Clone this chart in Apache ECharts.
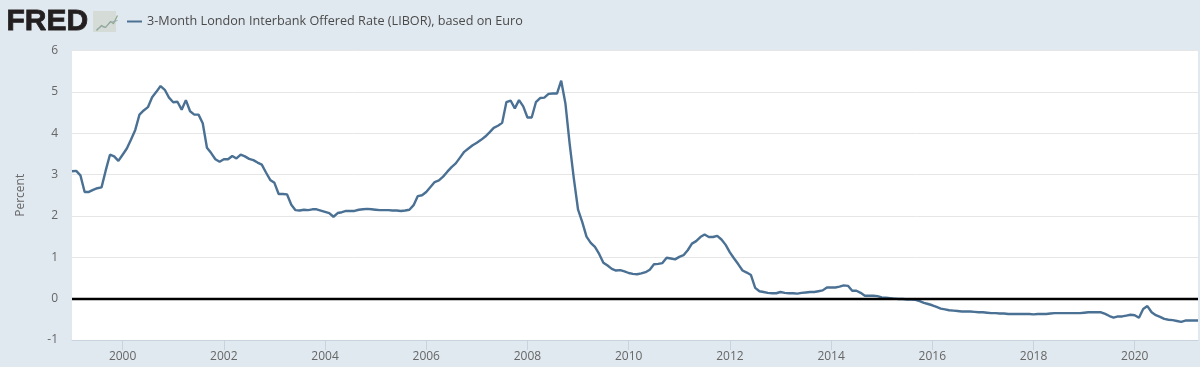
<!DOCTYPE html>
<html><head><meta charset="utf-8">
<style>html,body{margin:0;padding:0;background:#e1e9f0}#c{width:1200px;height:367px}</style>
<script src="https://cdn.jsdelivr.net/npm/echarts@6/dist/echarts.min.js"></script>
</head><body><div id="c"></div>
<script>
const seriesName = '3-Month London Interbank Offered Rate (LIBOR), based on Euro';
const yTicks = [-1,0,1,2,3,4,5,6];
const startYear = 1999;
const y1999=[3.08,3.09,2.98,2.58,2.58,2.63,2.67,2.69,3.10,3.48,3.44,3.33];
const y2000=[3.48,3.63,3.85,4.08,4.45,4.55,4.63,4.87,5.00,5.14,5.05,4.86];
const y2001=[4.75,4.76,4.57,4.80,4.53,4.45,4.45,4.24,3.65,3.52,3.37,3.31];
const y2002=[3.37,3.37,3.45,3.39,3.48,3.44,3.38,3.35,3.29,3.24,3.05,2.87];
const y2003=[2.80,2.53,2.53,2.52,2.27,2.14,2.13,2.15,2.14,2.16,2.16,2.13];
const y2004=[2.10,2.07,1.98,2.07,2.09,2.12,2.12,2.12,2.15,2.16,2.17,2.16];
const y2005=[2.15,2.14,2.14,2.14,2.13,2.13,2.12,2.13,2.15,2.26,2.48,2.50];
const y2006=[2.58,2.70,2.82,2.86,2.95,3.07,3.18,3.27,3.41,3.55,3.63,3.71];
const y2007=[3.77,3.84,3.92,4.02,4.13,4.18,4.25,4.75,4.79,4.60,4.80,4.65];
const y2008=[4.38,4.38,4.75,4.85,4.86,4.95,4.96,4.96,5.27,4.72,3.75,2.90];
const y2009=[2.15,1.85,1.50,1.35,1.25,1.08,0.87,0.80,0.72,0.68,0.69,0.66];
const y2010=[0.62,0.60,0.59,0.61,0.64,0.70,0.83,0.84,0.86,0.99,0.97,0.95];
const y2011=[1.01,1.05,1.17,1.33,1.39,1.49,1.55,1.49,1.49,1.52,1.43,1.30];
const y2012=[1.12,0.97,0.83,0.68,0.63,0.57,0.26,0.18,0.16,0.14,0.13,0.13];
const y2013=[0.16,0.14,0.13,0.13,0.12,0.14,0.15,0.16,0.16,0.18,0.20,0.27];
const y2014=[0.27,0.27,0.29,0.32,0.31,0.19,0.19,0.14,0.07,0.07,0.07,0.06];
const y2015=[0.03,0.02,0.01,0.00,-0.01,-0.01,-0.02,-0.02,-0.03,-0.06,-0.10,-0.13];
const y2016=[-0.16,-0.20,-0.24,-0.26,-0.28,-0.29,-0.30,-0.31,-0.31,-0.31,-0.32,-0.33];
const y2017=[-0.33,-0.34,-0.35,-0.35,-0.36,-0.36,-0.37,-0.37,-0.37,-0.37,-0.37,-0.37];
const y2018=[-0.38,-0.37,-0.37,-0.37,-0.36,-0.35,-0.35,-0.35,-0.35,-0.35,-0.35,-0.35];
const y2019=[-0.34,-0.33,-0.33,-0.33,-0.33,-0.37,-0.42,-0.46,-0.43,-0.43,-0.41,-0.39];
const y2020=[-0.40,-0.46,-0.25,-0.18,-0.33,-0.40,-0.44,-0.49,-0.51,-0.52,-0.54,-0.56];
const y2021=[-0.53,-0.53,-0.53,-0.53];

const byYear=[y1999,y2000,y2001,y2002,y2003,y2004,y2005,y2006,y2007,y2008,y2009,y2010,y2011,y2012,y2013,y2014,y2015,y2016,y2017,y2018,y2019,y2020,y2021];
const categories=[], values=[];
byYear.forEach((arr,i)=>arr.forEach((v,m)=>{categories.push((startYear+i)+'-'+String(m+1).padStart(2,'0'));values.push(v);}));
const isLabelled=(idx,val)=>{const [y,m]=val.split('-').map(Number);return m===1&&y%2===0;};

const chart=echarts.init(document.getElementById('c'),null,{renderer:'canvas'});
const font='"Open Sans", sans-serif';
chart.setOption({
  animation:false,
  backgroundColor:'#e1e9f0',
  grid:{left:72,right:2,top:50.5,bottom:27,show:true,backgroundColor:'#fff',borderWidth:0},
  legend:{show:true,left:122,top:10,itemWidth:15,itemHeight:2,itemGap:6,icon:'rect',
    data:[seriesName],textStyle:{fontFamily:font,fontSize:12.65,color:'#4a4a4a'}},
  xAxis:{type:'category',data:categories,boundaryGap:false,
    axisLine:{onZero:false,lineStyle:{color:'#c8d3de',width:1}},
    axisTick:{interval:isLabelled,length:10,lineStyle:{color:'#c8d3de'}},
    axisLabel:{interval:isLabelled,formatter:v=>v.slice(0,4),fontFamily:font,fontSize:12,color:'#666',margin:11},
    splitLine:{show:false}},
  yAxis:{type:'value',min:yTicks[0],max:yTicks[yTicks.length-1],interval:1,
    name:'Percent',nameLocation:'middle',nameGap:45,nameRotate:90,
    nameTextStyle:{fontFamily:font,fontSize:12,color:'#666'},
    axisLine:{show:false},axisTick:{show:false},
    axisLabel:{fontFamily:font,fontSize:12,color:'#666',margin:14},
    splitLine:{lineStyle:{color:'#e6e6e6',width:1}}},
  series:[{name:seriesName,type:'line',data:values,showSymbol:false,smooth:false,
    lineStyle:{color:'#4a7094',width:2.4},itemStyle:{color:'#4a7094'},
    markLine:{silent:true,symbol:'none',label:{show:false},animation:false,
      lineStyle:{color:'#000',width:2.4,type:'solid'},data:[{yAxis:0}]}}],
  graphic:[
    {type:'text',left:6,top:6,style:{text:'FRED',font:'bold 30px "Liberation Sans", sans-serif',fill:'#231f20',stroke:'#231f20',lineWidth:0.8}},
    {type:'rect',left:93,top:11,shape:{width:23,height:21},style:{fill:'#d5dcd8'}},
    {type:'polyline',left:94,top:13,shape:{points:[[0,16],[5,11],[9,13],[14,7],[17,9],[21,1]]},style:{stroke:'#8ba888',lineWidth:1.2,fill:'none'}},
    {type:'polyline',left:94,top:18,shape:{points:[[0,12],[5,9],[9,10],[14,5],[21,3]]},style:{stroke:'#9aa9b5',lineWidth:1,fill:'none'}}
  ]
});
</script></body></html>
